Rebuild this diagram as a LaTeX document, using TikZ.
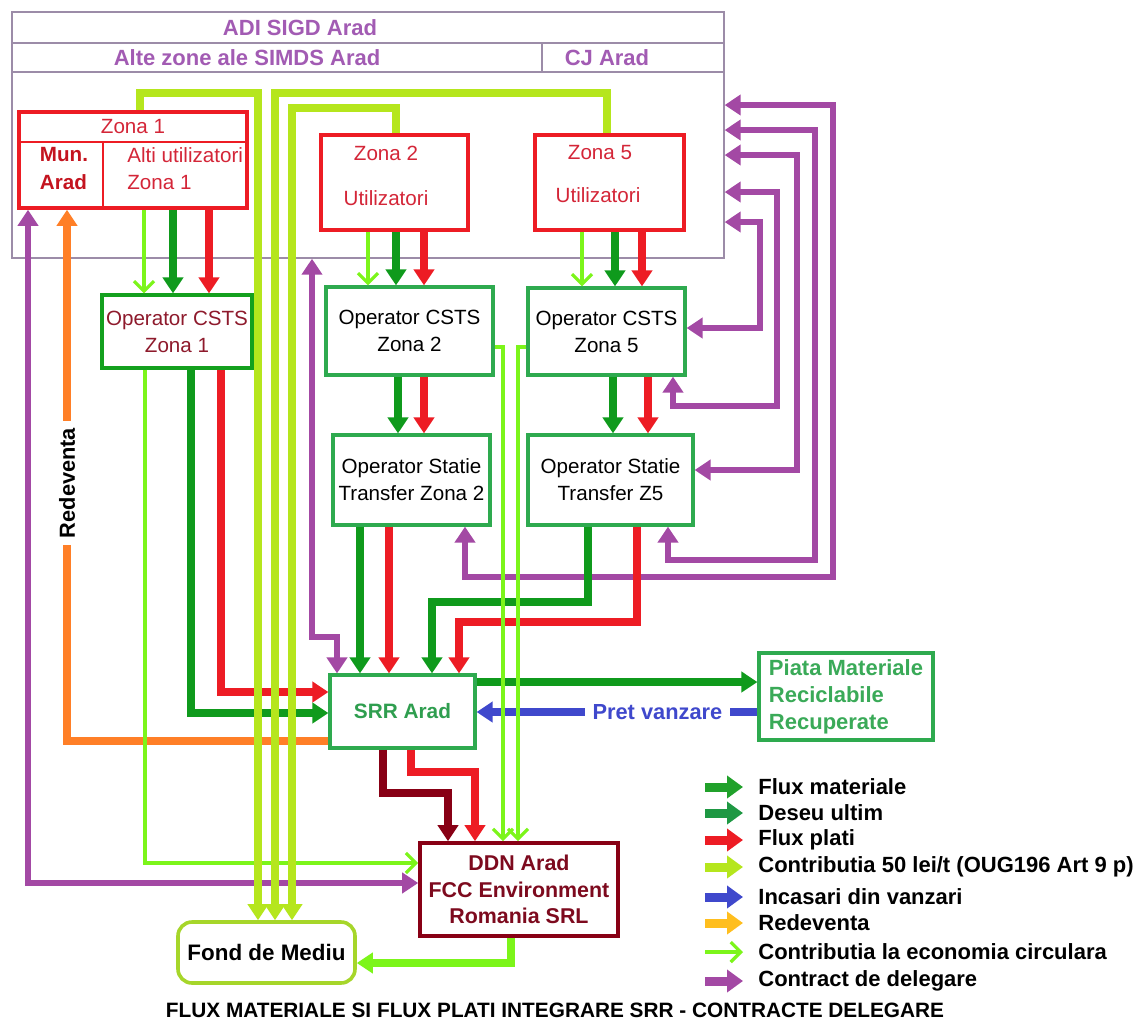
\documentclass[tikz,border=0pt]{standalone}
\usepackage{fontspec}
\setmainfont{Liberation Sans}
\setsansfont{Liberation Sans}
\usetikzlibrary{arrows.meta, positioning, calc}

\definecolor{cred}{HTML}{ED1C24}
\definecolor{cgreen}{HTML}{0F9A1C}
\definecolor{cboxgreen}{HTML}{2EAA4F}
\definecolor{cdarkbox}{HTML}{14A01E}
\definecolor{clime}{HTML}{B5E61D}
\definecolor{clgreen}{HTML}{7CF51A}
\definecolor{cpurple}{HTML}{A349A4}
\definecolor{corange}{HTML}{FF7F27}
\definecolor{cblue}{HTML}{3F48CC}
\definecolor{cgold}{HTML}{FFBE1E}
\definecolor{cdarkred}{HTML}{880015}
\definecolor{cadi}{HTML}{9C8CA8}
\definecolor{cadtext}{HTML}{A25BB3}
\definecolor{zonetext}{HTML}{D42638}
\definecolor{muntext}{HTML}{C4141F}
\definecolor{srrtext}{HTML}{2F9E4F}
\definecolor{piatatext}{HTML}{3AAA58}
\definecolor{ddntext}{HTML}{7D0A1E}
\definecolor{cfond}{HTML}{A6D62A}
\definecolor{cststext}{HTML}{8E1A2C}
\definecolor{legA}{HTML}{21A12B}
\definecolor{legB}{HTML}{1E9843}

\begin{document}
\begin{tikzpicture}[x=0.5pt, y=-0.5pt, font=\sffamily]
	\def\boxfont{\fontsize{10.3}{13.5}\selectfont}
	\def\contrib{Contributia 50 lei/t (OUG196 Art 9 p)}
	\tikzset{
		box/.style={draw, line width=1.6pt, fill=white, align=center, inner sep=0pt, font=\boxfont},
		redbox/.style={box, draw=cred, line width=1.8pt},
		greenbox/.style={box, draw=cboxgreen},
		ztext/.style={inner sep=0pt, text=zonetext, font=\boxfont},
		adtext/.style={inner sep=0pt, text=cadtext, font=\bfseries\fontsize{11}{13}\selectfont},
		flow/.style={line width=3.6pt, -{Triangle[length=8pt,width=10pt]}},
		twoway/.style={line width=3.4pt, {Triangle[length=8pt,width=10pt]}-{Triangle[length=8pt,width=10pt]}},
		lgarrow/.style={line width=1.6pt, clgreen, -{Straight Barb[length=5pt,width=10pt]}},
		limeline/.style={line width=3.6pt, clime, -{Triangle[length=8pt,width=10pt]}},
		legarrow/.style={line width=4.5pt, -{Triangle[length=8pt,width=11pt]}},
		legtext/.style={anchor=west, inner sep=0pt, font=\bfseries\fontsize{11}{13}\selectfont},
	}
	\fill[white] (0,0) rectangle (1137,1025);
	\useasboundingbox (0,0) rectangle (1137,1025);

	% ADI frame
	\node[draw=cadi, line width=0.7pt, minimum width=356pt, minimum height=123pt, inner sep=0pt] (adi) at (368,135) {};
	\draw[cadi, line width=0.7pt] (adi.west |- 0,43) -- (adi.east |- 0,43);
	\draw[cadi, line width=0.7pt] (adi.west |- 0,72) -- (adi.east |- 0,72);
	\draw[cadi, line width=0.7pt] (542,43) -- (542,72);
	\node[adtext] (aditxt) at (300,28) {ADI SIGD Arad};
	\node[adtext] (alte) at (247,58) {Alte zone ale SIMDS Arad};
	\node[adtext] (cj) at (607,58) {CJ Arad};

	% zones
	\node[redbox, minimum width=114pt, minimum height=48pt] (zona1) at (133,160) {};
	\draw[cred, line width=0.8pt] (zona1.west |- 0,142) -- (zona1.east |- 0,142);
	\draw[cred, line width=0.8pt] (103,142) -- (zona1.south -| 103,0);
	\node[ztext] (zona1t) at (133,127) {Zona 1};
	\node[ztext, text=muntext, font=\bfseries\fontsize{10.3}{14}\selectfont, align=left] (mun) at (64,169) {Mun.\\Arad};
	\node[ztext, align=left, anchor=west, font=\fontsize{10.3}{13.5}\selectfont] (alti) at (127,168.5) {Alti utilizatori\\Zona 1};

	\node[redbox, minimum width=73.5pt, minimum height=47.5pt] (zona2) at (394.5,182.5) {};
	\node[ztext] (zona2a) at (386,153) {Zona 2};
	\node[ztext] (zona2b) at (386,198) {Utilizatori};

	\node[redbox, minimum width=74.5pt, minimum height=47.5pt] (zona5) at (609.5,182.5) {};
	\node[ztext] (zona5a) at (600,153) {Zona 5};
	\node[ztext] (zona5b) at (598,195) {Utilizatori};

	% operators
	\node[greenbox, draw=cdarkbox, text=cststext, minimum width=75pt, minimum height=36.5pt] (csts1) at (177,331.5) {Operator CSTS\\Zona 1};
	\node[greenbox, minimum width=83.5pt, minimum height=44pt] (csts2) at (409.5,331) {Operator CSTS\\Zona 2};
	\node[greenbox, minimum width=78.5pt, minimum height=43.5pt] (csts5) at (606.5,331.5) {Operator CSTS\\Zona 5};
	\node[greenbox, minimum width=78.5pt, minimum height=45pt] (statie2) at (411.5,480) {Operator Statie\\Transfer Zona 2};
	\node[greenbox, minimum width=82.5pt, minimum height=45pt] (statiez5) at (610.5,480) {Operator Statie\\Transfer Z5};

	\node[greenbox, text=srrtext, font=\bfseries\fontsize{10.4}{13}\selectfont, minimum width=72.5pt, minimum height=36.5pt] (srr) at (402.5,711.5) {SRR Arad};
	\node[greenbox, text=piatatext, font=\bfseries\fontsize{11}{13.5}\selectfont, align=left, minimum width=87pt, minimum height=43.5pt] (piata) at (846,696.5) {Piata Materiale\\Reciclabile\\Recuperate};
	\node[box, draw=cdarkred, line width=1.8pt, text=ddntext, font=\bfseries\fontsize{10.7}{13.25}\selectfont, minimum width=99pt, minimum height=46.5pt] (ddn) at (519,889.5) {DDN Arad\\FCC Environment\\Romania SRL};
	\node[box, draw=cfond, line width=1.8pt, rounded corners=7pt, font=\bfseries\fontsize{11.2}{13}\selectfont, minimum width=88.5pt, minimum height=30.5pt] (fond) at (266.5,952.5) {Fond de Mediu};

	% contract de delegare
	\draw[twoway, cpurple] (adi.east |- 0,105) -- (833,105) -- (833,577) -- (465,577) -- (statie2.south -| 465,0);
	\draw[twoway, cpurple] (adi.east |- 0,130) -- (815,130) -- (815,560) -- (668,560) -- (statiez5.south -| 668,0);
	\draw[twoway, cpurple] (adi.east |- 0,155) -- (797,155) -- (797,470) -- (statiez5.east |- 0,470);
	\draw[twoway, cpurple] (adi.east |- 0,192) -- (777,192) -- (777,406) -- (673,406) -- (csts5.south -| 673,0);
	\draw[twoway, cpurple] (adi.east |- 0,222) -- (760,222) -- (760,328) -- (csts5.east |- 0,328);
	\draw[twoway, cpurple] (adi.south -| 312,0) -- (312,637) -- (337,637) -- (srr.north -| 337,0);
	\draw[twoway, cpurple] (ddn.west |- 0,883) -- (28,883) -- (zona1.south -| 28,0);

	% zones to operators
	\draw[flow, cgreen] (zona1.south -| 173,0) -- (csts1.north -| 173,0);
	\draw[flow, cred] (zona1.south -| 209,0) -- (csts1.north -| 209,0);
	\draw[flow, cgreen] (zona2.south -| 396,0) -- (csts2.north -| 396,0);
	\draw[flow, cred] (zona2.south -| 424,0) -- (csts2.north -| 424,0);
	\draw[flow, cgreen] (zona5.south -| 615,0) -- (csts5.north -| 615,0);
	\draw[flow, cred] (zona5.south -| 642,0) -- (csts5.north -| 642,0);

	\draw[flow, cgreen] (csts2.south -| 398,0) -- (statie2.north -| 398,0);
	\draw[flow, cred] (csts2.south -| 424,0) -- (statie2.north -| 424,0);
	\draw[flow, cgreen] (csts5.south -| 613,0) -- (statiez5.north -| 613,0);
	\draw[flow, cred] (csts5.south -| 648,0) -- (statiez5.north -| 648,0);

	% into SRR
	\draw[flow, cred] (csts1.south -| 221,0) -- (221,692) -- (srr.west |- 0,692);
	\draw[flow, cgreen] (csts1.south -| 191,0) -- (191,713) -- (srr.west |- 0,713);
	\draw[flow, cgreen] (statie2.south -| 360,0) -- (srr.north -| 360,0);
	\draw[flow, cred] (statie2.south -| 389,0) -- (srr.north -| 389,0);
	\draw[flow, cgreen] (statiez5.south -| 588,0) -- (588,602) -- (432,602) -- (srr.north -| 432,0);
	\draw[flow, cred] (statiez5.south -| 637,0) -- (637,622) -- (459,622) -- (srr.north -| 459,0);

	% out of SRR
	\draw[flow, cgreen] (srr.east |- 0,682) -- (piata.west |- 0,682);
	\draw[flow, cblue] (piata.west |- 0,712) -- node[pos=0.356, fill=white, text=cblue, inner xsep=4pt, inner ysep=1pt, font=\bfseries\fontsize{10.9}{13}\selectfont] (pret) {Pret vanzare} (srr.east |- 0,712);
	\draw[flow, cdarkred] (srr.south -| 383,0) -- (383,793) -- (448,793) -- (ddn.north -| 448,0);
	\draw[flow, cred] (srr.south -| 411,0) -- (411,772) -- (475,772) -- (ddn.north -| 475,0);
	\draw[flow, corange] (srr.west |- 0,741) -- (67,741) -- (zona1.south -| 67,0);
	\node[rotate=90, fill=white, inner sep=3.5pt, font=\bfseries\fontsize{10.9}{13}\selectfont] (redev) at (67,483) {Redeventa};
	\draw[flow, clgreen] (ddn.south -| 511,0) -- (511,963) -- (fond.east |- 0,963);

	% contributia la economia circulara
	\draw[lgarrow] (zona1.south -| 144,0) -- (csts1.north -| 144,0);
	\draw[lgarrow] (zona2.south -| 368,0) -- (csts2.north -| 368,0);
	\draw[lgarrow] (zona5.south -| 582,0) -- (csts5.north -| 582,0);
	\draw[lgarrow] (csts1.south -| 145,0) -- (145,863) -- (ddn.west |- 0,863);
	\draw[lgarrow] (csts2.east |- 0,347) -- (503,347) -- (ddn.north -| 503,0);
	\draw[lgarrow] (csts5.west |- 0,347) -- (518,347) -- (ddn.north -| 518,0);

	% contributia 50 lei/t
	\draw[limeline] (zona1.north -| 140,0) -- (140,93) -- (258,93) -- (fond.north -| 258,0);
	\draw[limeline] (zona5.north -| 607,0) -- (607,93) -- (275,93) -- (fond.north -| 275,0);
	\draw[limeline] (zona2.north -| 396,0) -- (396,108) -- (292,108) -- (fond.north -| 292,0);

	% legend
	\foreach \yy/\cc/\txt in {787/legA/Flux materiale, 813/legB/Deseu ultim, 840/cred/Flux plati, 867/clime/\contrib, 897/cblue/Incasari din vanzari, 923/cgold/Redeventa, 981/cpurple/Contract de delegare}
	{
		\node[legtext] (leg\yy) at (758,\yy) {\txt};
		\draw[legarrow, \cc] ([xshift=-26.5pt]leg\yy.west) -- ([xshift=-7.5pt]leg\yy.west);
	}
	\node[legtext] (leg952) at (758,952) {Contributia la economia circulara};
	\draw[lgarrow] ([xshift=-26.5pt]leg952.west) -- ([xshift=-7.5pt]leg952.west);

	\node[font=\bfseries\fontsize{10.4}{12}\selectfont] (title) at (555,1010) {FLUX MATERIALE SI FLUX PLATI INTEGRARE SRR - CONTRACTE DELEGARE};
\end{tikzpicture}
\end{document}
